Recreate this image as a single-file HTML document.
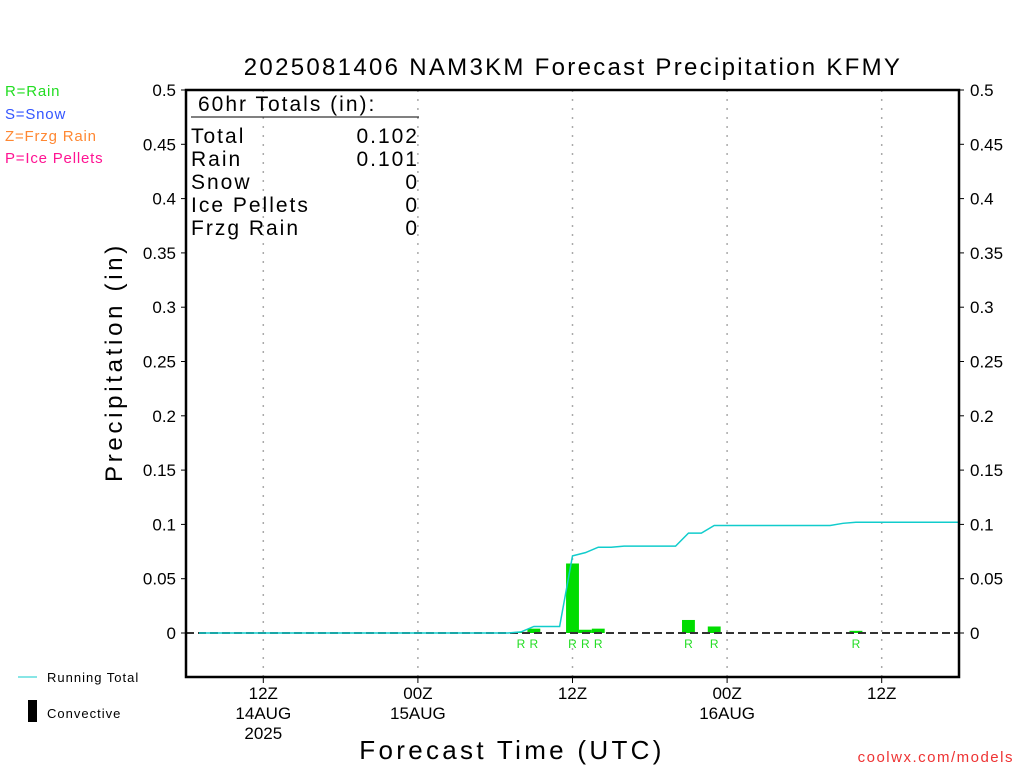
<!DOCTYPE html>
<html><head><meta charset="utf-8"><style>
html,body{margin:0;padding:0;background:#fff;}
svg{display:block;font-family:"Liberation Sans",sans-serif;}
</style></head><body>
<svg id="chart" width="1024" height="768" xmlns="http://www.w3.org/2000/svg">
<rect width="1024" height="768" fill="#fff"/>
<text x="573" y="75" font-size="24" text-anchor="middle" letter-spacing="2.3" fill="#000">2025081406 NAM3KM Forecast Precipitation KFMY</text>
<g font-size="15" letter-spacing="0.8">
<text x="5" y="96" fill="#22dd22">R=Rain</text>
<text x="5" y="119" fill="#3355ff">S=Snow</text>
<text x="5" y="141" fill="#ff8833">Z=Frzg Rain</text>
<text x="5" y="163" fill="#ff1493">P=Ice Pellets</text>
</g>
<g id="grid"></g>
<g id="bars"></g>
<line x1="186" y1="633" x2="959" y2="633" stroke="#333" stroke-width="2" stroke-dasharray="8,4"/>
<polyline id="runline" fill="none" stroke="#11cccc" stroke-width="1.5"/>
<g id="rlabels" font-size="12" fill="#22dd22" text-anchor="middle"></g>
<rect x="186" y="90" width="773" height="587" fill="none" stroke="#000" stroke-width="2.5"/>
<g id="yaxis" font-size="17" fill="#000"></g>
<g id="xaxis" font-size="17" fill="#000" text-anchor="middle"></g>
<text transform="translate(122,362) rotate(-90)" font-size="24" text-anchor="middle" letter-spacing="3.7">Precipitation (in)</text>
<text x="512" y="759" font-size="26" text-anchor="middle" letter-spacing="3.3">Forecast Time (UTC)</text>
<g font-size="21" letter-spacing="2" fill="#000">
<text x="198" y="111">60hr Totals (in):</text>
<line x1="191" y1="117" x2="419" y2="117" stroke="#000" stroke-width="1"/>
<text x="191" y="143">Total</text><text x="419" y="143" text-anchor="end">0.102</text>
<text x="191" y="166">Rain</text><text x="419" y="166" text-anchor="end">0.101</text>
<text x="191" y="189">Snow</text><text x="419" y="189" text-anchor="end">0</text>
<text x="191" y="212">Ice Pellets</text><text x="419" y="212" text-anchor="end">0</text>
<text x="191" y="235">Frzg Rain</text><text x="419" y="235" text-anchor="end">0</text>
</g>
<g font-size="13" letter-spacing="1" fill="#000">
<line x1="18" y1="677" x2="37" y2="677" stroke="#11cccc" stroke-width="1"/>
<text x="47" y="682">Running Total</text>
<rect x="28" y="700" width="9" height="22" fill="#000"/>
<text x="47" y="718">Convective</text>
</g>
<text x="1014" y="762" font-size="15" fill="#ee3333" text-anchor="end" letter-spacing="1.5">coolwx.com/models</text>
</svg>
<script>
const hours=[26,27,30,31,32,39,41,52];
const amounts=[0.001,0.004,0.064,0.003,0.004,0.012,0.006,0.002];
const runHours=[1,25,26,27,28,29,30,31,32,33,34,38,39,40,41,50,51,52,60];
const runTotals=[0,0,0.001,0.006,0.006,0.006,0.071,0.074,0.079,0.079,0.080,0.080,0.092,0.092,0.099,0.099,0.101,0.102,0.102];
const yTicks=[0,0.05,0.1,0.15,0.2,0.25,0.3,0.35,0.4,0.45,0.5];
const xTickHours=[6,18,30,42,54];
const xTickLabels=[["12Z","14AUG","2025"],["00Z","15AUG"],["12Z"],["00Z","16AUG"],["12Z"]];
const NS="http://www.w3.org/2000/svg";
const X=h=>186+h*(773/60);
const Y=v=>633-v*1086;
function mk(tag,attrs,parent){const e=document.createElementNS(NS,tag);for(const k in attrs)e.setAttribute(k,attrs[k]);parent.appendChild(e);return e;}
const grid=document.getElementById('grid'),bars=document.getElementById('bars'),rl=document.getElementById('rlabels');
const ya=document.getElementById('yaxis'),xa=document.getElementById('xaxis');
xTickHours.forEach((h,i)=>{
 const g=mk('line',{x1:X(h),x2:X(h),y1:90,y2:677,stroke:'#aaa','stroke-width':1.5,'stroke-dasharray':'2,7'},grid);
 
 
 const t=mk('line',{x1:X(h),x2:X(h),y1:677,y2:683,stroke:'#000','stroke-width':1},xa);
 
 
 xTickLabels[i].forEach((s,j)=>{
  const tx=mk('text',{x:X(h),y:699+j*20},xa);tx.textContent=s;
  
  
 });
});
yTicks.forEach(v=>{
 const y=Y(v);
 [[181,186],[959,964]].forEach(p=>{const t=mk('line',{x1:p[0],x2:p[1],y1:y,y2:y,stroke:'#000','stroke-width':1},ya);
  
  });
 const l=mk('text',{x:176,y:y+6,'text-anchor':'end'},ya);l.textContent=String(v);
 
 
 const r=mk('text',{x:970,y:y+6},ya);r.textContent=String(v);
 
 
});
hours.forEach((h,i)=>{
 const w=773/60;
 const b=mk('rect',{x:X(h)-w/2,y:Y(amounts[i]),width:w,height:Math.max(0,Y(0)-Y(amounts[i])),fill:'#00dd00'},bars);
 
 
 const t=mk('text',{x:X(h),y:648},rl);t.textContent='R';
 
 
});
document.getElementById('runline').setAttribute('points',runHours.map((h,i)=>X(h)+','+Y(runTotals[i])).join(' '));
</script>
</body></html>
